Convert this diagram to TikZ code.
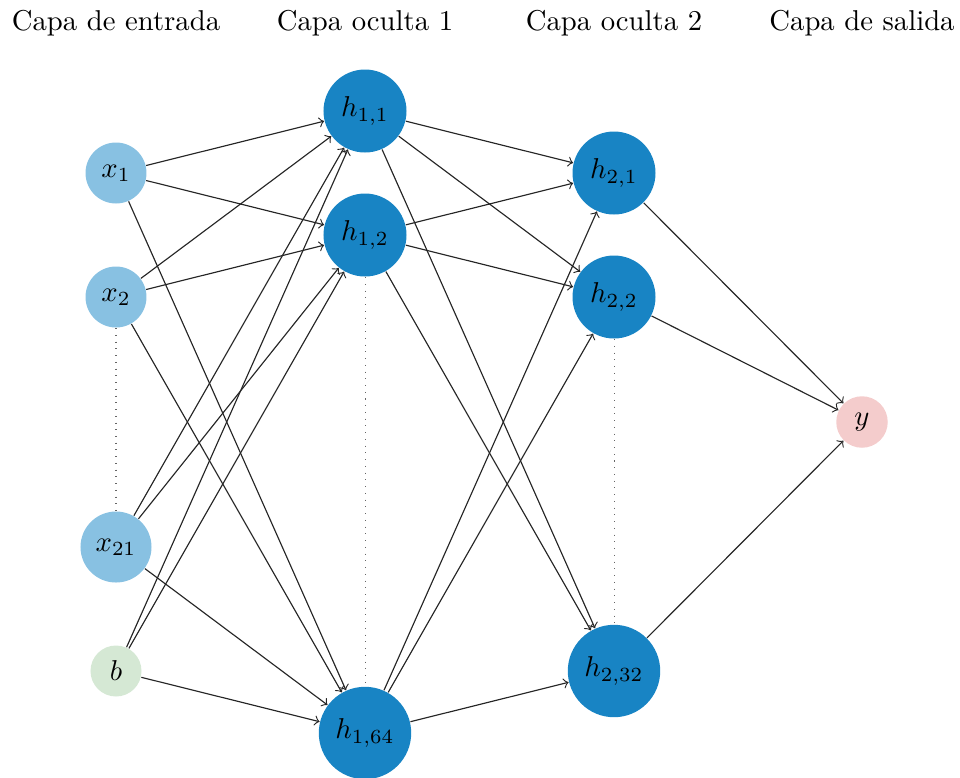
\documentclass[tikz,border=0pt]{standalone}
\definecolor{inblue}{RGB}{136,193,226}
\definecolor{hblue}{RGB}{24,132,196}
\definecolor{bgreen}{RGB}{213,232,212}
\definecolor{ypink}{RGB}{244,204,204}
\tikzset{
  neuron/.style={circle, inner sep=0pt},
  innode/.style={neuron, fill=inblue},
  hnode/.style={neuron, fill=hblue},
  bnode/.style={neuron, fill=bgreen},
  ynode/.style={neuron, fill=ypink},
  conn/.style={->, black!85},
  gap/.style={dotted, black!60, line width=0.35pt},
  header/.style={inner sep=0pt}
}
\begin{document}
\begin{tikzpicture}[x=0.3484pt, y=-0.3484pt]
\useasboundingbox (0,0) rectangle (960,777);
% headers
\node[header] (t1) at (116,23) {Capa de entrada};
\node[header] (t2) at (365,23) {Capa oculta 1};
\node[header] (t3) at (614,23) {Capa oculta 2};
\node[header] (t4) at (862,23) {Capa de salida};
% input layer
\node[innode, minimum size=21.25pt] (x1) at (116,173) {$x_1$};
\node[innode, minimum size=21.25pt] (x2) at (116,297) {$x_2$};
\node[innode, minimum size=24.74pt] (x21) at (116,547) {$x_{21}$};
\node[bnode, minimum size=17.77pt] (b) at (116,671) {$b$};
% hidden 1
\node[hnode, minimum size=28.92pt] (h11) at (365,111) {$h_{1,1}$};
\node[hnode, minimum size=28.92pt] (h12) at (365,235) {$h_{1,2}$};
\node[hnode, minimum size=32.2pt] (h164) at (365,733) {$h_{1,64}$};
% hidden 2
\node[hnode, minimum size=28.92pt] (h21) at (614,173) {$h_{2,1}$};
\node[hnode, minimum size=28.92pt] (h22) at (614,297) {$h_{2,2}$};
\node[hnode, minimum size=32.2pt] (h232) at (614,671) {$h_{2,32}$};
% output
\node[ynode, minimum size=17.94pt] (y) at (862,422) {$y$};
% dotted gaps
\draw[gap] (x2) -- (x21);
\draw[gap] (h12) -- (h164);
\draw[gap] (h22) -- (h232);
% connections
\foreach \s in {x1,x2,x21,b}
  \foreach \t in {h11,h12,h164}
    \draw[conn] (\s) -- (\t);
\foreach \s in {h11,h12,h164}
  \foreach \t in {h21,h22,h232}
    \draw[conn] (\s) -- (\t);
\foreach \s in {h21,h22,h232}
  \draw[conn] (\s) -- (y);
\end{tikzpicture}
\end{document}
